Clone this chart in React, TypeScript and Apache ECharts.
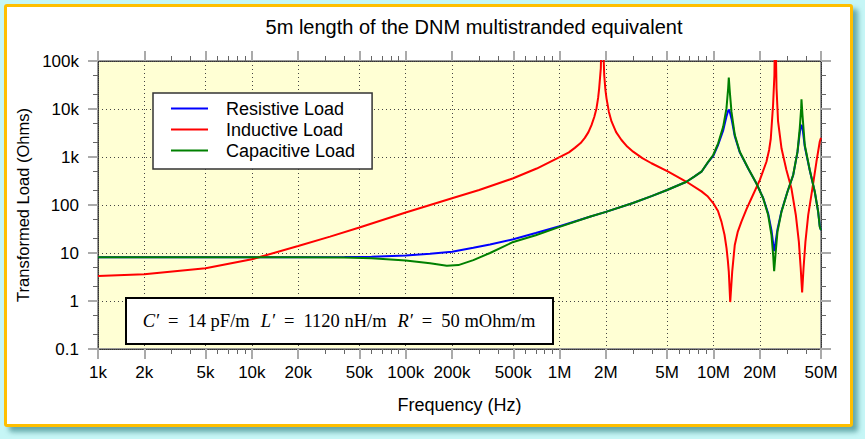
import React, { useEffect, useRef } from 'react';
import * as echarts from 'echarts';

const titleText = '5m length of the DNM multistranded equivalent';
const xAxisName = 'Frequency (Hz)';
const yAxisName = 'Transformed Load (Ohms)';
const seriesNames = ['Resistive Load', 'Inductive Load', 'Capacitive Load'];
const seriesColors = ['#0000ff', '#ff0000', '#008000'];

// [frequency (Hz), |Z| (Ohms)]
const resistive: [number, number][] = [
  [1e3, 8.2], [5e3, 8.2], [2e4, 8.2], [4e4, 8.3], [6e4, 8.4], [1e5, 8.9], [1.44e5, 9.6],
  [2e5, 10.6], [2.75e5, 12.8], [3.53e5, 15], [5e5, 19.3], [7e5, 26], [1e6, 36], [1.57e6, 57],
  [2e6, 72], [3e6, 110], [4e6, 155], [5e6, 205], [6.68e6, 305], [7.5e6, 390], [8.36e6, 494],
  [9.24e6, 780], [9.96e6, 1050], [1.073e7, 1800], [1.157e7, 3600], [1.215e7, 7000],
  [1.246e7, 9200], [1.258e7, 9700], [1.27e7, 9300], [1.31e7, 6300], [1.376e7, 2700],
  [1.483e7, 1250], [1.681e7, 575], [1.903e7, 280], [2.104e7, 140], [2.268e7, 66],
  [2.382e7, 30], [2.443e7, 16], [2.48e7, 11], [2.529e7, 16], [2.606e7, 31], [2.767e7, 74],
  [3.027e7, 189], [3.297e7, 420], [3.516e7, 1250], [3.639e7, 3200], [3.715e7, 4500],
  [3.733e7, 4700], [3.79e7, 4100], [3.922e7, 1650], [4.227e7, 525], [4.555e7, 189],
  [4.793e7, 72], [4.909e7, 36], [5e7, 30],
];

const inductive: [number, number][] = [
  [1e3, 3.3], [2e3, 3.6], [5e3, 4.8], [1e4, 7.4], [2e4, 14], [3.22e4, 21.9], [5e4, 34],
  [1e5, 70], [2e5, 138], [3e5, 205], [5e5, 360], [7.1e5, 575], [1.03e6, 1040],
  [1.15e6, 1250], [1.256e6, 1550], [1.37e6, 1950], [1.459e6, 2500], [1.54e6, 3300],
  [1.612e6, 4600], [1.68e6, 6800], [1.737e6, 10300], [1.78e6, 17000], [1.808e6, 27000],
  [1.853e6, 70000], [1.89e6, 1e6], [1.95e6, 51000], [1.985e6, 25000], [2.018e6, 16700],
  [2.09e6, 8800], [2.175e6, 5500], [2.33e6, 3300], [2.525e6, 2260], [2.75e6, 1650],
  [3.006e6, 1290], [3.45e6, 950], [3.954e6, 741], [5.08e6, 494], [6.68e6, 305],
  [8.36e6, 192], [9.2e6, 150], [9.96e6, 110], [1.07e7, 75], [1.127e7, 45], [1.18e7, 24],
  [1.216e7, 12.6], [1.24e7, 7], [1.258e7, 4.1], [1.285e7, 0.95], [1.324e7, 4.1],
  [1.376e7, 14.7], [1.44e7, 28], [1.52e7, 45], [1.64e7, 82], [1.766e7, 138], [2.0e7, 330],
  [2.21e7, 795], [2.3e7, 1400], [2.358e7, 2400], [2.44e7, 12000], [2.49e7, 51000],
  [2.52e7, 1e6], [2.57e7, 27000], [2.63e7, 5500], [2.77e7, 1500], [2.98e7, 535],
  [3.21e7, 224], [3.43e7, 62], [3.59e7, 17], [3.69e7, 4.8], [3.77e7, 1.5], [3.85e7, 4.8],
  [3.96e7, 17], [4.13e7, 62], [4.4e7, 224], [4.67e7, 795], [4.91e7, 2100], [5e7, 2500],
];

const capacitive: [number, number][] = [
  [1e3, 8.2], [5e3, 8.2], [2e4, 8.2], [4e4, 8.1], [6e4, 7.8], [1e5, 7.0], [1.44e5, 6.1],
  [1.85e5, 5.4], [2.2e5, 5.6], [2.75e5, 7.1], [3.53e5, 10], [5e5, 17], [7e5, 23.5],
  [1e6, 35], [1.57e6, 57], [2e6, 72], [3e6, 110], [4e6, 155], [5e6, 205], [6.68e6, 305],
  [7.5e6, 390], [8.36e6, 494], [9.24e6, 795], [9.96e6, 1100], [1.073e7, 1930],
  [1.157e7, 4300], [1.215e7, 10300], [1.246e7, 27000], [1.258e7, 45000], [1.277e7, 23000],
  [1.31e7, 8700], [1.376e7, 2900], [1.483e7, 1290], [1.681e7, 582], [1.903e7, 280],
  [2.104e7, 138], [2.268e7, 62], [2.382e7, 23.7], [2.443e7, 9.1], [2.48e7, 4.2],
  [2.529e7, 9.1], [2.606e7, 27.5], [2.767e7, 72], [3.027e7, 189], [3.297e7, 422],
  [3.516e7, 1290], [3.639e7, 4000], [3.715e7, 10300], [3.733e7, 16000], [3.79e7, 7500],
  [3.922e7, 1780], [4.227e7, 535], [4.555e7, 189], [4.793e7, 72], [4.909e7, 35], [5e7, 30],
];

const xMajorTicks = [1e3, 2e3, 5e3, 1e4, 2e4, 5e4, 1e5, 2e5, 5e5, 1e6, 2e6, 5e6, 1e7, 2e7, 5e7];
const xMajorLabels = ['1k', '2k', '5k', '10k', '20k', '50k', '100k', '200k', '500k', '1M', '2M', '5M', '10M', '20M', '50M'];
const xMinorTicks = [
  3e3, 4e3, 6e3, 7e3, 8e3, 9e3, 3e4, 4e4, 6e4, 7e4, 8e4, 9e4, 3e5, 4e5, 6e5, 7e5, 8e5, 9e5,
  3e6, 4e6, 6e6, 7e6, 8e6, 9e6, 3e7, 4e7,
];
const yMajorTicks = [0.1, 1, 10, 100, 1000, 10000, 100000];
const yMajorLabels = ['0.1', '1', '10', '100', '1k', '10k', '100k'];
const yMinorTicks = [0.2, 0.5, 2, 5, 20, 50, 200, 500, 2000, 5000, 20000, 50000];

const FONT = 'Liberation Sans';

function labelFor(values: number[], labels: string[]) {
  return (v: number) => {
    const i = values.findIndex((t) => Math.abs(t - v) / t < 1e-6);
    return i >= 0 ? labels[i] : '';
  };
}

function axisPair(dim: 'x' | 'y', side: string, major: boolean) {
  const isX = dim === 'x';
  const base: any = {
    type: 'log',
    logBase: 10,
    position: side,
    min: isX ? 1e3 : 0.1,
    max: isX ? 5e7 : 1e5,
    gridIndex: 0,
    axisLine: {
      show: true,
      onZero: false,
      lineStyle: major ? { color: '#999', width: 2 } : { color: '#333', width: 1, type: [1, 1] },
    },
    axisTick: {
      show: true,
      customValues: major ? (isX ? xMajorTicks : yMajorTicks) : (isX ? xMinorTicks : yMinorTicks),
      length: major ? 10 : 5,
      lineStyle: major ? { color: '#aaa', width: 2 } : { color: '#666', width: 1 },
    },
    axisLabel: { show: false },
    splitLine: { show: false },
    minorTick: { show: false },
    minorSplitLine: { show: false },
    silent: true,
  };
  return base;
}

const gridLine = { show: true, lineStyle: { color: '#444', type: [1, 3], width: 1 } };

const xMain = axisPair('x', 'bottom', true);
xMain.axisLabel = {
  show: true,
  customValues: xMajorTicks,
  formatter: labelFor(xMajorTicks, xMajorLabels),
  fontSize: 17,
  fontFamily: FONT,
  color: '#000',
  margin: 15,
};
xMain.splitLine = gridLine;
xMain.name = xAxisName;
xMain.nameLocation = 'middle';
xMain.nameGap = 47;
xMain.nameTextStyle = { fontSize: 18, fontFamily: FONT, color: '#000' };

const yMain = axisPair('y', 'left', true);
yMain.axisLabel = {
  show: true,
  customValues: yMajorTicks,
  formatter: labelFor(yMajorTicks, yMajorLabels),
  fontSize: 17,
  fontFamily: FONT,
  color: '#000',
  margin: 19,
};
yMain.splitLine = gridLine;
yMain.name = yAxisName;
yMain.nameLocation = 'middle';
yMain.nameGap = 58;
yMain.nameRotate = 90;
yMain.nameTextStyle = { fontSize: 16.5, fontFamily: FONT, color: '#000' };

const option: any = {
  animation: false,
  backgroundColor: 'transparent',
  title: {
    text: titleText,
    left: 474,
    top: 17,
    textAlign: 'center',
    padding: 0,
    textStyle: { fontSize: 20, fontWeight: 'normal', fontFamily: FONT, color: '#000' },
  },
  grid: {
    left: 98,
    top: 61,
    width: 723,
    height: 288,
    show: true,
    backgroundColor: '#ffffd4',
    borderWidth: 0,
  },
  legend: {
    data: seriesNames.map((n) => ({ name: n, icon: 'rect' })),
    orient: 'vertical',
    left: 153,
    top: 93,
    padding: [6, 17, 9, 18],
    itemWidth: 37,
    itemHeight: 2,
    itemGap: 2,
    backgroundColor: '#ffffff',
    borderColor: '#333',
    borderWidth: 1.5,
    selectedMode: false,
    textStyle: { fontSize: 18, fontFamily: FONT, color: '#000', lineHeight: 19, padding: [0, 0, 0, 13] },
    z: 20,
  },
  xAxis: [xMain, axisPair('x', 'bottom', false), axisPair('x', 'top', true), axisPair('x', 'top', false)],
  yAxis: [yMain, axisPair('y', 'left', false), axisPair('y', 'right', true), axisPair('y', 'right', false)],
  series: [resistive, inductive, capacitive].map((d, i) => ({
    type: 'line',
    name: seriesNames[i],
    data: d,
    xAxisIndex: 0,
    yAxisIndex: 0,
    showSymbol: false,
    symbol: 'none',
    clip: true,
    lineStyle: { color: seriesColors[i], width: 2 },
    itemStyle: { color: seriesColors[i] },
    z: 3 + i,
  })),
  graphic: [
    {
      type: 'rect',
      shape: { x: 126, y: 298, width: 427, height: 46 },
      style: { fill: '#ffffff', stroke: '#000000', lineWidth: 2 },
      z: 50,
    },
    {
      type: 'text',
      x: 339,
      y: 321,
      z: 51,
      style: {
        text: '{i|C′}{eq|=}14 pF/m{gap|}{i|L′}{eq|=}1120 nH/m{gap|}{i|R′}{eq|=}50 mOhm/m',
        align: 'center',
        verticalAlign: 'middle',
        fontSize: 18.5,
        fontFamily: 'Liberation Serif',
        fill: '#000',
        rich: {
          i: { fontStyle: 'italic', fontSize: 18.5, fontFamily: 'Liberation Serif' },
          eq: { padding: [0, 9, 0, 9], fontSize: 18.5, fontFamily: 'Liberation Serif' },
          gap: { width: 11 },
        },
      },
    },
  ],
};

export default function App() {
  const ref = useRef<HTMLDivElement>(null);
  useEffect(() => {
    document.body.style.margin = '0';
    const chart = echarts.init(ref.current!, null, { renderer: 'svg' });
    chart.setOption(option);
    return () => chart.dispose();
  }, []);
  return (
    <div style={{ position: 'fixed', left: 0, top: 0, width: 865, height: 439, background: '#c6f6f6', overflow: 'hidden' }}>
      <div
        style={{
          position: 'absolute', left: 4, top: 4, width: 849, height: 423, boxSizing: 'border-box',
          border: '3px solid #ffbf00', borderRadius: 3, background: '#ffffff',
          boxShadow: '5px 5px 5px rgba(40,120,120,0.6)',
        }}
      />
      <div ref={ref} style={{ position: 'absolute', left: 0, top: 0, width: 865, height: 439 }} />
    </div>
  );
}
